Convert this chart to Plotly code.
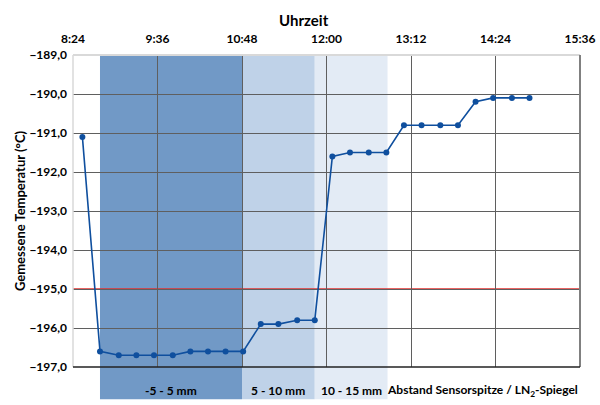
import pandas as pd
import plotly.graph_objects as go

DAY = "2020-01-01 "

times = ["8:32", "8:47", "9:03", "9:18", "9:33", "9:49", "10:04", "10:19", "10:34",
         "10:49", "11:04", "11:19", "11:35", "11:50", "12:05", "12:20", "12:36",
         "12:51", "13:06", "13:21", "13:37", "13:52", "14:07", "14:22", "14:38", "14:53"]
temps = [-191.1, -196.6, -196.7, -196.7, -196.7, -196.7, -196.6, -196.6, -196.6,
         -196.6, -195.9, -195.9, -195.8, -195.8, -191.6, -191.5, -191.5,
         -191.5, -190.8, -190.8, -190.8, -190.8, -190.2, -190.1, -190.1, -190.1]

# distance bands
band_labels = ["-5 - 5 mm", "5 - 10 mm", "10 - 15 mm"]
band_start = ["8:47", "10:48", "11:50"]
band_end = ["10:48", "11:50", "12:52"]
band_colors = ["#7199C6", "#BFD2E8", "#E3EBF5"]

threshold = -195.0
x_range = ["8:24", "15:36"]
y_range = [-197.0, -189.0]
x_title = "Uhrzeit"
y_title = "Gemessene Temperatur (°C)"
legend_text = "Abstand Sensorspitze / LN<sub>2</sub>-Spiegel"


def ts(t):
    return pd.Timestamp(DAY + t)


x = [ts(t) for t in times]

FONT = "Lato"
fig = go.Figure()

fig.add_trace(go.Scatter(
    x=x, y=temps, mode="lines+markers",
    line=dict(color="#0F4F9E", width=1.6),
    marker=dict(color="#0F4F9E", size=6),
    showlegend=False, hoverinfo="x+y",
))

shapes = []
annotations = []
for lab, s, e, c in zip(band_labels, band_start, band_end, band_colors):
    shapes.append(dict(type="rect", xref="x", yref="paper",
                       x0=ts(s), x1=ts(e), y0=-0.103, y1=1,
                       fillcolor=c, line=dict(width=0), layer="below"))
    mid = ts(s) + (ts(e) - ts(s)) / 2
    annotations.append(dict(x=mid, xref="x", y=-0.074, yref="paper",
                            text=lab, showarrow=False, xanchor="center", yanchor="middle",
                            font=dict(family=FONT, size=12, color="#000", weight="bold")))
annotations.append(dict(x=1, xref="paper", y=-0.074, yref="paper",
                        text=legend_text, showarrow=False, xanchor="right", yanchor="middle",
                        font=dict(family=FONT, size=12, color="#000", weight="bold")))
# top axis title
annotations.append(dict(x=0.456, xref="paper", y=1.112, yref="paper",
                        text=x_title, showarrow=False, xanchor="center", yanchor="middle",
                        font=dict(family=FONT, size=15, color="#000", weight="bold")))

# threshold line
shapes.append(dict(type="line", xref="paper", yref="y", x0=0, x1=1,
                   y0=threshold, y1=threshold,
                   line=dict(color="#E0302F", width=1.6), layer="between"))
# borders
shapes.append(dict(type="line", xref="paper", yref="paper", x0=0, x1=1, y0=1, y1=1,
                   line=dict(color="#D9D9D9", width=2), layer="above"))
shapes.append(dict(type="line", xref="paper", yref="paper", x0=0, x1=0, y0=0, y1=1,
                   line=dict(color="#D9D9D9", width=1.5), layer="above"))
shapes.append(dict(type="line", xref="paper", yref="paper", x0=1, x1=1, y0=0, y1=1,
                   line=dict(color="#808080", width=2), layer="above"))
shapes.append(dict(type="line", xref="paper", yref="paper", x0=0, x1=1, y0=0, y1=0,
                   line=dict(color="#222222", width=1.5), layer="above"))

fig.update_layout(
    width=600, height=405,
    margin=dict(l=73, r=20, t=55, b=38),
    paper_bgcolor="white", plot_bgcolor="white",
    separators=",.",
    shapes=shapes, annotations=annotations,
    font=dict(family=FONT, size=12, color="#000"),
    xaxis=dict(
        type="date", side="top", automargin=False,
        range=[ts(x_range[0]), ts(x_range[1])],
        tick0=ts(x_range[0]), dtick=72 * 60 * 1000,
        tickformat="%-H:%M",
        showgrid=True, gridcolor="#5F5F5F", gridwidth=1,
        zeroline=False, showline=False, ticks="",
        ticklabelstandoff=9,
        tickfont=dict(family=FONT, size=12, color="#000", weight="bold"),
    ),
    yaxis=dict(
        range=y_range, dtick=1, tick0=-197, tickformat=".1f", automargin=False,
        showgrid=True, gridcolor="#5F5F5F", gridwidth=1,
        zeroline=False, showline=False, ticks="",
        ticklabelstandoff=5,
        tickfont=dict(family=FONT, size=12, color="#000", weight="bold"),
        title=dict(text=y_title, standoff=0,
                   font=dict(family=FONT, size=13, color="#000", weight="bold")),
    ),
)

fig.write_html("out.html", config={"displayModeBar": False},
               post_script="document.body.style.margin='0';document.body.style.padding='0';")
